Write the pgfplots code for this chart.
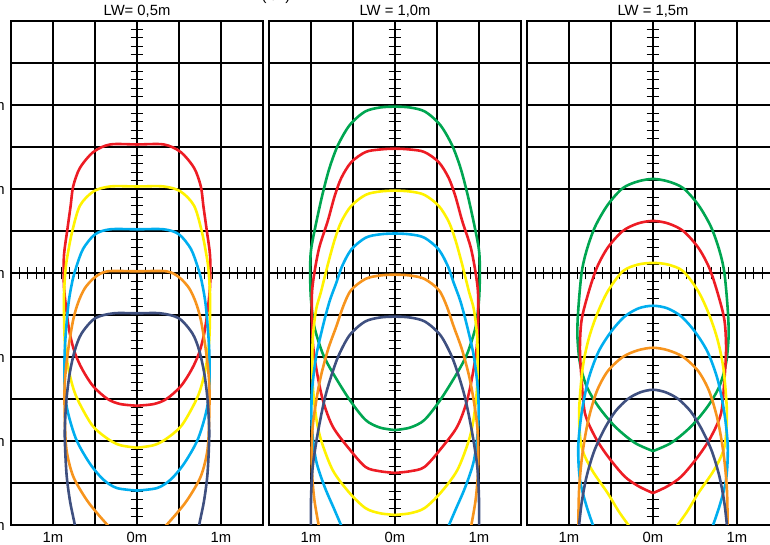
\documentclass[border=0pt]{standalone}
\usepackage{pgfplots}
\pgfplotsset{compat=1.18}
\usepackage{fontspec}
\setmainfont{Liberation Sans}
\definecolor{cRed}{HTML}{ED1C24}
\definecolor{cYel}{HTML}{FFF200}
\definecolor{cCya}{HTML}{00AEEF}
\definecolor{cOra}{HTML}{F7941D}
\definecolor{cNav}{HTML}{3F5080}
\definecolor{cGre}{HTML}{00A651}
\newcommand{\lblfont}{\fontsize{7.4}{8.5}\selectfont}
\pgfplotsset{
 every axis title/.style={at={(0.5,1)}, anchor=base, yshift=2.6pt, font=\lblfont, inner sep=0pt},
 frame/.style={scale only axis, width=126pt, height=252pt, anchor=south west,
   xmin=-1.5, xmax=1.5, ymin=-3, ymax=3},
 panel/.style={frame,
   xtick={-1.5,-1,-0.5,0,0.5,1,1.5},
   ytick={-3,-2.5,-2,-1.5,-1,-0.5,0,0.5,1,1.5,2,2.5,3},
   xticklabels={{},{1m},{},{0m},{},{1m},{}},
   yticklabels={},
   grid=major, grid style={black, line width=0.65pt},
   major tick length=0pt,
   axis line style={black, line width=0.8pt},
   tick label style={font=\lblfont, inner sep=0pt},
   xticklabel style={anchor=base, yshift=-9pt},
   yticklabel style={anchor=east, xshift=-3pt},
   every axis plot/.append style={line width=1.3pt, smooth, no markers}},
 cross/.style={frame, axis lines=middle, axis line style={draw=none},
   xtick distance=0.1, ytick distance=0.1,
   major tick length=6.3pt, tick align=center,
   tick style={black, line width=0.6pt},
   xticklabels={}, yticklabels={}}
}
\begin{document}
\begin{tikzpicture}
% ---------------- Panel 1 ----------------
\begin{axis}[cross, at={(5.5pt,10pt)}]\end{axis}
\begin{axis}[panel, at={(5.5pt,10pt)}, title={LW= 0,5m},
  yticklabels={{3m},{},{2m},{},{1m},{},{0m},{},{1m},{},{2m},{},{}}]
\addplot[cRed] coordinates {(0,-1.58) (-0.2,-1.56) (-0.35,-1.5) (-0.52,-1.35) (-0.65,-1.15) (-0.74,-0.95) (-0.8,-0.72) (-0.84,-0.45) (-0.87,-0.15) (-0.87,0.2) (-0.83,0.51) (-0.79,0.8) (-0.76,1.03) (-0.68,1.25) (-0.52,1.44) (-0.32,1.53) (0,1.53) (0.32,1.53) (0.52,1.44) (0.68,1.25) (0.76,1.03) (0.79,0.8) (0.83,0.51) (0.87,0.2) (0.87,-0.15) (0.84,-0.45) (0.8,-0.72) (0.74,-0.95) (0.65,-1.15) (0.52,-1.35) (0.35,-1.5) (0.2,-1.56) (0,-1.58)};
\addplot[cYel] coordinates {(0,-2.08) (-0.2,-2.05) (-0.34,-1.98) (-0.52,-1.83) (-0.66,-1.6) (-0.75,-1.4) (-0.82,-1.12) (-0.86,-0.8) (-0.87,-0.3) (-0.85,0.05) (-0.82,0.25) (-0.77,0.5) (-0.68,0.8) (-0.52,0.97) (-0.32,1.03) (0,1.03) (0.32,1.03) (0.52,0.97) (0.68,0.8) (0.77,0.5) (0.82,0.25) (0.85,0.05) (0.87,-0.3) (0.86,-0.8) (0.82,-1.12) (0.75,-1.4) (0.66,-1.6) (0.52,-1.83) (0.34,-1.98) (0.2,-2.05) (0,-2.08)};
\addplot[cCya] coordinates {(0,-2.59) (-0.24,-2.56) (-0.4,-2.46) (-0.56,-2.27) (-0.72,-1.99) (-0.82,-1.67) (-0.86,-1.4) (-0.86,-0.92) (-0.82,-0.4) (-0.77,-0.1) (-0.72,0.08) (-0.64,0.29) (-0.5,0.46) (-0.32,0.52) (0,0.52) (0.32,0.52) (0.5,0.46) (0.64,0.29) (0.72,0.08) (0.77,-0.1) (0.82,-0.4) (0.86,-0.92) (0.86,-1.4) (0.82,-1.67) (0.72,-1.99) (0.56,-2.27) (0.4,-2.46) (0.24,-2.56) (0,-2.59)};
\addplot[cOra] coordinates {(-0.26,-3.1) (-0.44,-2.9) (-0.6,-2.7) (-0.76,-2.42) (-0.84,-2.1) (-0.86,-1.7) (-0.86,-1.31) (-0.82,-0.92) (-0.76,-0.56) (-0.7,-0.35) (-0.62,-0.18) (-0.5,-0.05) (-0.35,0.02) (0,0.02) (0.35,0.02) (0.5,-0.05) (0.62,-0.18) (0.7,-0.35) (0.76,-0.56) (0.82,-0.92) (0.86,-1.31) (0.86,-1.7) (0.84,-2.1) (0.76,-2.42) (0.6,-2.7) (0.44,-2.9) (0.26,-3.1)};
\addplot[cNav] coordinates {(-0.72,-3.1) (-0.75,-2.95) (-0.8,-2.7) (-0.84,-2.38) (-0.86,-1.91) (-0.84,-1.51) (-0.8,-1.19) (-0.74,-0.92) (-0.66,-0.72) (-0.5,-0.54) (-0.28,-0.48) (0,-0.48) (0.28,-0.48) (0.5,-0.54) (0.66,-0.72) (0.74,-0.92) (0.8,-1.19) (0.84,-1.51) (0.86,-1.91) (0.84,-2.38) (0.8,-2.7) (0.75,-2.95) (0.72,-3.1)};
\end{axis}
% ---------------- Panel 2 ----------------
\begin{axis}[cross, at={(134.5pt,10pt)}]\end{axis}
\begin{axis}[panel, at={(134.5pt,10pt)}, title={LW = 1,0m}]
\addplot[cGre] coordinates {(0,-1.87) (-0.18,-1.84) (-0.35,-1.75) (-0.54,-1.51) (-0.74,-1.19) (-0.86,-0.96) (-0.96,-0.64) (-1.0,-0.32) (-1.01,0) (-1.0,0.27) (-0.94,0.59) (-0.86,0.95) (-0.78,1.25) (-0.68,1.52) (-0.54,1.76) (-0.36,1.92) (-0.18,1.97) (0,1.98) (0.18,1.97) (0.36,1.92) (0.54,1.76) (0.68,1.52) (0.78,1.25) (0.86,0.95) (0.94,0.59) (1.0,0.27) (1.01,0) (1.0,-0.32) (0.96,-0.64) (0.86,-0.96) (0.74,-1.19) (0.54,-1.51) (0.35,-1.75) (0.18,-1.84) (0,-1.87)};
\addplot[cRed] coordinates {(0,-2.38) (-0.18,-2.36) (-0.35,-2.31) (-0.54,-2.1) (-0.74,-1.83) (-0.86,-1.51) (-0.94,-1.12) (-0.98,-0.8) (-0.99,-0.28) (-0.96,0) (-0.9,0.31) (-0.8,0.62) (-0.72,0.91) (-0.64,1.13) (-0.52,1.32) (-0.35,1.44) (-0.18,1.47) (0,1.48) (0.18,1.47) (0.35,1.44) (0.52,1.32) (0.64,1.13) (0.72,0.91) (0.8,0.62) (0.9,0.31) (0.96,0) (0.99,-0.28) (0.98,-0.8) (0.94,-1.12) (0.86,-1.51) (0.74,-1.83) (0.54,-2.1) (0.35,-2.31) (0.18,-2.36) (0,-2.38)};
\addplot[cYel] coordinates {(0,-2.88) (-0.18,-2.86) (-0.35,-2.8) (-0.54,-2.62) (-0.74,-2.35) (-0.88,-1.99) (-0.94,-1.71) (-0.98,-1.31) (-0.98,-0.8) (-0.94,-0.44) (-0.88,-0.22) (-0.8,0.1) (-0.72,0.39) (-0.64,0.61) (-0.52,0.8) (-0.35,0.93) (-0.18,0.97) (0,0.98) (0.18,0.97) (0.35,0.93) (0.52,0.8) (0.64,0.61) (0.72,0.39) (0.8,0.1) (0.88,-0.22) (0.94,-0.44) (0.98,-0.8) (0.98,-1.31) (0.94,-1.71) (0.88,-1.99) (0.74,-2.35) (0.54,-2.62) (0.35,-2.8) (0.18,-2.86) (0,-2.88)};
\addplot[cCya] coordinates {(-0.6,-3.1) (-0.72,-2.82) (-0.84,-2.54) (-0.94,-2.23) (-0.99,-1.83) (-0.99,-1.43) (-0.94,-1.0) (-0.86,-0.64) (-0.78,-0.34) (-0.7,-0.12) (-0.63,0.08) (-0.52,0.28) (-0.35,0.42) (-0.18,0.46) (0,0.47) (0.18,0.46) (0.35,0.42) (0.52,0.28) (0.63,0.08) (0.7,-0.12) (0.78,-0.34) (0.86,-0.64) (0.94,-1.0) (0.99,-1.43) (0.99,-1.83) (0.94,-2.23) (0.84,-2.54) (0.72,-2.82) (0.6,-3.1)};
\addplot[cOra] coordinates {(-0.89,-3.1) (-0.96,-2.7) (-0.99,-2.31) (-0.98,-1.83) (-0.9,-1.31) (-0.8,-0.92) (-0.7,-0.64) (-0.61,-0.38) (-0.52,-0.2) (-0.35,-0.07) (-0.18,-0.03) (0,-0.02) (0.18,-0.03) (0.35,-0.07) (0.52,-0.2) (0.61,-0.38) (0.7,-0.64) (0.8,-0.92) (0.9,-1.31) (0.98,-1.83) (0.99,-2.31) (0.96,-2.7) (0.89,-3.1)};
\addplot[cNav] coordinates {(-1.0,-3.1) (-1.0,-2.7) (-0.98,-2.31) (-0.92,-1.91) (-0.84,-1.51) (-0.76,-1.23) (-0.67,-0.98) (-0.54,-0.74) (-0.36,-0.58) (-0.18,-0.53) (0,-0.52) (0.18,-0.53) (0.36,-0.58) (0.54,-0.74) (0.67,-0.98) (0.76,-1.23) (0.84,-1.51) (0.92,-1.91) (0.98,-2.31) (1.0,-2.7) (1.0,-3.1)};
\end{axis}
% ---------------- Panel 3 ----------------
\begin{axis}[cross, at={(263.5pt,10pt)}]\end{axis}
\begin{axis}[panel, at={(263.5pt,10pt)}, title={LW = 1,5m}]
\addplot[cGre] coordinates {(0,-2.12) (-0.22,-2.02) (-0.45,-1.83) (-0.65,-1.59) (-0.79,-1.35) (-0.87,-1.07) (-0.9,-0.75) (-0.89,-0.44) (-0.85,0) (-0.79,0.27) (-0.69,0.55) (-0.54,0.81) (-0.36,1.01) (-0.18,1.09) (0,1.12) (0.18,1.09) (0.36,1.01) (0.54,0.81) (0.69,0.55) (0.79,0.27) (0.85,0) (0.89,-0.44) (0.9,-0.75) (0.87,-1.07) (0.79,-1.35) (0.65,-1.59) (0.45,-1.83) (0.22,-2.02) (0,-2.12)};
\addplot[cRed] coordinates {(0,-2.62) (-0.17,-2.54) (-0.34,-2.42) (-0.54,-2.18) (-0.69,-1.95) (-0.81,-1.67) (-0.85,-1.27) (-0.87,-0.9) (-0.85,-0.56) (-0.77,-0.24) (-0.67,0.06) (-0.54,0.3) (-0.36,0.5) (-0.18,0.59) (0,0.62) (0.18,0.59) (0.36,0.5) (0.54,0.3) (0.67,0.06) (0.77,-0.24) (0.85,-0.56) (0.87,-0.9) (0.85,-1.27) (0.81,-1.67) (0.69,-1.95) (0.54,-2.18) (0.34,-2.42) (0.17,-2.54) (0,-2.62)};
\addplot[cYel] coordinates {(-0.22,-3.1) (-0.4,-2.85) (-0.54,-2.62) (-0.73,-2.34) (-0.85,-2.07) (-0.88,-1.67) (-0.84,-1.15) (-0.77,-0.8) (-0.67,-0.5) (-0.54,-0.22) (-0.36,0.02) (-0.18,0.1) (0,0.12) (0.18,0.1) (0.36,0.02) (0.54,-0.22) (0.67,-0.5) (0.77,-0.8) (0.84,-1.15) (0.88,-1.67) (0.85,-2.07) (0.73,-2.34) (0.54,-2.62) (0.4,-2.85) (0.22,-3.1)};
\addplot[cCya] coordinates {(-0.68,-3.1) (-0.79,-2.78) (-0.87,-2.46) (-0.89,-2.07) (-0.85,-1.67) (-0.77,-1.27) (-0.65,-0.94) (-0.5,-0.7) (-0.34,-0.52) (-0.17,-0.42) (0,-0.39) (0.17,-0.42) (0.34,-0.52) (0.5,-0.7) (0.65,-0.94) (0.77,-1.27) (0.85,-1.67) (0.89,-2.07) (0.87,-2.46) (0.79,-2.78) (0.68,-3.1)};
\addplot[cOra] coordinates {(-0.89,-3.1) (-0.88,-2.58) (-0.84,-2.15) (-0.77,-1.75) (-0.67,-1.41) (-0.54,-1.17) (-0.36,-1.0) (-0.18,-0.92) (0,-0.89) (0.18,-0.92) (0.36,-1.0) (0.54,-1.17) (0.67,-1.41) (0.77,-1.75) (0.84,-2.15) (0.88,-2.58) (0.89,-3.1)};
\addplot[cNav] coordinates {(-0.89,-3.1) (-0.85,-2.74) (-0.79,-2.42) (-0.7,-2.12) (-0.58,-1.86) (-0.45,-1.65) (-0.3,-1.5) (-0.15,-1.42) (0,-1.39) (0.15,-1.42) (0.3,-1.5) (0.45,-1.65) (0.58,-1.86) (0.7,-2.12) (0.79,-2.42) (0.85,-2.74) (0.89,-3.1)};
\end{axis}
\node[anchor=base, font=\lblfont, inner sep=0pt] at (138pt,272.3pt) {(lux)};
\pgfresetboundingbox
\useasboundingbox (0,0) rectangle (385pt,272.5pt);
\end{tikzpicture}
\end{document}
